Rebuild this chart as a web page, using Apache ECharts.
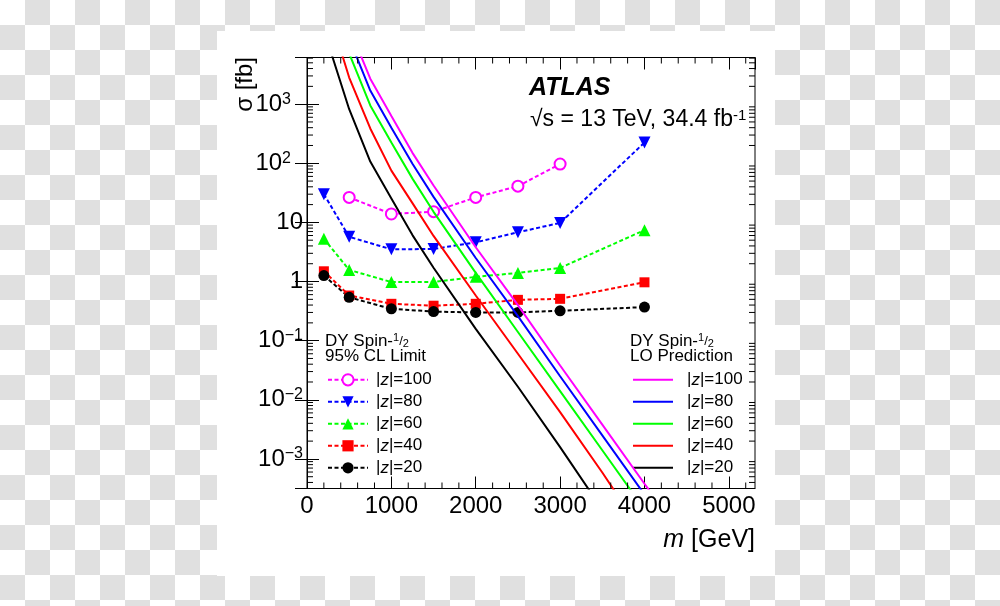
<!DOCTYPE html>
<html><head><meta charset="utf-8">
<script src="https://cdn.jsdelivr.net/npm/echarts@6/dist/echarts.min.js"></script>
<style>
html,body{margin:0;padding:0;width:1000px;height:606px;overflow:hidden;
background:repeating-conic-gradient(#e0e0e0 0% 25%, #ffffff 0% 50%) 0 0/50px 50px;}
#panel{position:absolute;left:217px;top:31px;width:558px;height:545px;background:#fff;}
#c{position:absolute;left:0;top:0;width:1000px;height:606px;}
</style></head><body><div id="panel"></div><div id="c"></div>
<script>
// ---------- data ----------
const massLimit = [200, 500, 1000, 1500, 2000, 2500, 3000, 4000];
const massLimit100 = [500, 1000, 1500, 2000, 2500, 3000];
const lim100 = [26.5, 13.9, 15.2, 26.5, 41, 97];
const lim80 = [30, 5.7, 3.5, 3.55, 4.6, 6.8, 9.8, 225];
const lim60 = [5.3, 1.57, 0.98, 0.98, 1.2, 1.4, 1.7, 7.4];
const lim40 = [1.49, 0.58, 0.42, 0.39, 0.42, 0.49, 0.51, 0.97];
const lim20 = [1.26, 0.54, 0.345, 0.31, 0.30, 0.30, 0.32, 0.37];

const massPred = [250, 500, 750, 1000, 1250, 1500, 2000, 2500, 3000, 3500, 4000, 4500];
const pred100 = [3e5, 20000, 2700, 630, 150, 42, 3.8, 0.40, 0.038, 0.0038, 0.00038, 0.00004];
const pred80 = [2e5, 12900, 1700, 400, 98, 27, 2.5, 0.26, 0.025, 0.0025, 0.00025, 0.000025];
const pred60 = [1e5, 7200, 950, 224, 55, 15.1, 1.4, 0.14, 0.014, 0.0014, 0.00014];
const pred40 = [40000, 2820, 388, 75, 21.2, 5.9, 0.58, 0.060, 0.0062, 0.00059, 0.00005];
const pred20 = [10700, 820, 107, 25.4, 6.1, 1.71, 0.158, 0.0166, 0.00158, 0.00014];

const xTickLabels = ['0', '1000', '2000', '3000', '4000', '5000'];
const yDecades = [-3, -2, -1, 0, 1, 2, 3];
const yTickLabels = ['{b|10}{sm|−3}', '{b|10}{sm|−2}', '{b|10}{sm|−1}', '{b|1}', '{b|10}', '{b|10}{sp|2}', '{b|10}{sp|3}'];
const zLabels = {lim100:'100', lim80:'80', lim60:'60', lim40:'40', lim20:'20',
                 pred100:'100', pred80:'80', pred60:'60', pred40:'40', pred20:'20'};

// ---------- axis ranges / decoration ----------
const X_MIN = 0, X_MAX = 5310, Y_MIN = 3.16e-4, Y_MAX = 6150;
const FONT = "'Liberation Sans', Arial, Helvetica, sans-serif";
const xMinorVals = [];
for (let v = 200; v < X_MAX; v += 200) if (v % 1000 !== 0) xMinorVals.push(v);
const yMinorVals = [];
[-4, -3, -2, -1, 0, 1, 2, 3].forEach(d => [2,3,4,5,6,7,8,9].forEach(k => {
  const v = k * Math.pow(10, d); if (v > Y_MIN && v < Y_MAX) yMinorVals.push(v);
}));

const pairs = (xs, ys) => ys.map((y, i) => [xs[i], y]);

const limitStyle = (name, color, symbol, size, rot, xs, ys) => ({
  name, type: 'line', data: pairs(xs, ys), symbol, symbolSize: size, symbolRotate: rot,
  showSymbol: true, smooth: false, z: 3,
  lineStyle: {color, width: 2, type: [4, 2.5]},
  itemStyle: {color, borderColor: color, borderWidth: symbol === 'emptyCircle' ? 1.5 : 0},
  clip: true
});
const predStyle = (name, color, ys) => ({
  name, type: 'line', data: pairs(massPred, ys), symbol: 'none', showSymbol: false,
  smooth: false, z: 4, clip: true,
  lineStyle: {color, width: 2, type: 'solid'}, itemStyle: {color}
});

const tickSeries = {
  type: 'custom', silent: true, xAxisIndex: 0, yAxisIndex: 0, z: 5, clip: false,
  data: xMinorVals.map(v => [v, 1, 0]).concat(yMinorVals.map(v => [0, v, 1])),
  renderItem: (params, api) => {
    const kind = api.value(2);
    const st = {stroke: '#000', lineWidth: 1};
    if (kind === 0) {
      const b = api.coord([api.value(0), Y_MIN]);
      const t = api.coord([api.value(0), Y_MAX]);
      return {type: 'group', children: [
        {type: 'line', shape: {x1: b[0], y1: b[1], x2: b[0], y2: b[1] - 6}, style: st},
        {type: 'line', shape: {x1: t[0], y1: t[1], x2: t[0], y2: t[1] + 6}, style: st}]};
    }
    const l = api.coord([X_MIN, api.value(1)]);
    const r = api.coord([X_MAX, api.value(1)]);
    return {type: 'group', children: [
      {type: 'line', shape: {x1: l[0], y1: l[1], x2: l[0] + 6, y2: l[1]}, style: st},
      {type: 'line', shape: {x1: r[0], y1: r[1], x2: r[0] - 6, y2: r[1]}, style: st}]};
  }
};

const yFormatter = v => {
  const lg = Math.log10(v); const e = Math.round(lg);
  if (Math.abs(lg - e) > 1e-6) return '';
  const i = yDecades.indexOf(e); return i >= 0 ? yTickLabels[i] : '';
};
const xFormatter = v => {
  const i = Math.round(v / 1000);
  return (Math.abs(v - i * 1000) < 1e-6 && xTickLabels[i] !== undefined) ? xTickLabels[i] : '';
};

const legendText = {
  fontFamily: FONT, fontSize: 17, color: '#000', lineHeight: 14,
  rich: {i: {fontFamily: FONT, fontSize: 17, fontStyle: 'italic', lineHeight: 14, color: '#000'}}
};
const legendFmt = name => '|{i|z}|=' + zLabels[name];

const chart = echarts.init(document.getElementById('c'), null, {renderer: 'canvas'});
chart.setOption({
  animation: false,
  backgroundColor: 'transparent',
  grid: {left: 307, top: 57.5, width: 448, height: 431, show: true,
         borderColor: '#000', borderWidth: 1, backgroundColor: 'transparent', containLabel: false},
  xAxis: [
    {type: 'value', min: X_MIN, max: X_MAX, interval: 1000, position: 'bottom',
     axisLine: {show: true, lineStyle: {color: '#000', width: 1}},
     axisTick: {show: true, inside: true, length: 12, lineStyle: {color: '#000'}},
     minorTick: {show: false}, splitLine: {show: false},
     axisLabel: {show: true, fontFamily: FONT, fontSize: 24, color: '#000', margin: 6,
                 showMaxLabel: false, formatter: xFormatter}},
    {type: 'value', min: X_MIN, max: X_MAX, interval: 1000, position: 'top',
     axisLine: {show: true, lineStyle: {color: '#000', width: 1}},
     axisTick: {show: true, inside: true, length: 12, lineStyle: {color: '#000'}},
     splitLine: {show: false}, axisLabel: {show: false}}
  ],
  yAxis: [
    {type: 'log', logBase: 10, min: Y_MIN, max: Y_MAX, position: 'left',
     axisLine: {show: true, lineStyle: {color: '#000', width: 1}},
     axisTick: {show: true, inside: true, length: 12, lineStyle: {color: '#000'}},
     minorTick: {show: false}, splitLine: {show: false},
     axisLabel: {show: true, margin: 4, formatter: yFormatter, showMinLabel: false, showMaxLabel: false,
       rich: {
         b: {fontFamily: FONT, fontSize: 24, color: '#000', lineHeight: 26},
         sp: {fontFamily: FONT, fontSize: 16, color: '#000', verticalAlign: 'top', lineHeight: 16, padding: [0, 12, 0, 0]},
         sm: {fontFamily: FONT, fontSize: 16, color: '#000', verticalAlign: 'top', lineHeight: 16}
       }}},
    {type: 'log', logBase: 10, min: Y_MIN, max: Y_MAX, position: 'right',
     axisLine: {show: true, lineStyle: {color: '#000', width: 1}},
     axisTick: {show: true, inside: true, length: 12, lineStyle: {color: '#000'}},
     splitLine: {show: false}, axisLabel: {show: false}}
  ],
  legend: [
    {data: ['lim100', 'lim80', 'lim60', 'lim40', 'lim20'], orient: 'vertical',
     left: 327, top: 371.3, padding: 0, itemWidth: 40, itemHeight: 14, itemGap: 5,
     selectedMode: false, formatter: legendFmt, textStyle: Object.assign({padding: [0, 0, 0, 3]}, legendText)},
    {data: ['pred100', 'pred80', 'pred60', 'pred40', 'pred20'], orient: 'vertical',
     left: 633, top: 371.3, padding: 0, itemWidth: 40, itemHeight: 2, itemGap: 5, icon: 'rect',
     selectedMode: false, formatter: legendFmt, textStyle: Object.assign({padding: [0, 0, 0, 9]}, legendText)}
  ],
  series: [
    limitStyle('lim100', '#ff00ff', 'emptyCircle', 11, 0, massLimit100, lim100),
    limitStyle('lim80', '#0000ff', 'triangle', 12, 180, massLimit, lim80),
    limitStyle('lim60', '#00ff00', 'triangle', 12, 0, massLimit, lim60),
    limitStyle('lim40', '#ff0000', 'rect', 10, 0, massLimit, lim40),
    limitStyle('lim20', '#000000', 'circle', 11, 0, massLimit, lim20),
    predStyle('pred100', '#ff00ff', pred100),
    predStyle('pred80', '#0000ff', pred80),
    predStyle('pred60', '#00ff00', pred60),
    predStyle('pred40', '#ff0000', pred40),
    predStyle('pred20', '#000000', pred20),
    tickSeries
  ],
  graphic: [
    {type: 'text', x: 245, y: 57, rotation: Math.PI / 2,
     style: {text: 'σ [fb]', font: '24px ' + FONT, fill: '#000', align: 'right', verticalAlign: 'middle'}},
    {type: 'text', x: 755, y: 540,
     style: {text: '{i|m} [GeV]', font: '25px ' + FONT, fill: '#000', align: 'right', verticalAlign: 'middle',
             rich: {i: {fontFamily: FONT, fontSize: 25, fontStyle: 'italic', fill: '#000'}}}},
    {type: 'text', x: 529, y: 88,
     style: {text: 'ATLAS', font: 'italic bold 25px ' + FONT, fill: '#000', align: 'left', verticalAlign: 'middle'}},
    {type: 'text', x: 530, y: 120,
     style: {text: '√s = 13 TeV, 34.4 fb{sp|-1}', font: '23px ' + FONT, fill: '#000', align: 'left', verticalAlign: 'middle',
             rich: {sp: {fontFamily: FONT, fontSize: 15, verticalAlign: 'top', lineHeight: 15, fill: '#000'}}}},
    {type: 'text', x: 325, y: 341,
     style: {text: 'DY Spin-{a|1}{s|/}{d|2}', font: '17px ' + FONT, fill: '#000', align: 'left', verticalAlign: 'middle',
             rich: {a: {fontFamily: FONT, fontSize: 11, verticalAlign: 'top', lineHeight: 11, fill: '#000'},
                    s: {fontFamily: FONT, fontSize: 13, lineHeight: 17, fill: '#000'},
                    d: {fontFamily: FONT, fontSize: 11, verticalAlign: 'bottom', lineHeight: 11, fill: '#000'}}}},
    {type: 'text', x: 325, y: 356,
     style: {text: '95% CL Limit', font: '17px ' + FONT, fill: '#000', align: 'left', verticalAlign: 'middle'}},
    {type: 'text', x: 630, y: 341,
     style: {text: 'DY Spin-{a|1}{s|/}{d|2}', font: '17px ' + FONT, fill: '#000', align: 'left', verticalAlign: 'middle',
             rich: {a: {fontFamily: FONT, fontSize: 11, verticalAlign: 'top', lineHeight: 11, fill: '#000'},
                    s: {fontFamily: FONT, fontSize: 13, lineHeight: 17, fill: '#000'},
                    d: {fontFamily: FONT, fontSize: 11, verticalAlign: 'bottom', lineHeight: 11, fill: '#000'}}}},
    {type: 'text', x: 630, y: 356,
     style: {text: 'LO Prediction', font: '17px ' + FONT, fill: '#000', align: 'left', verticalAlign: 'middle'}}
  ]
});
</script></body></html>
